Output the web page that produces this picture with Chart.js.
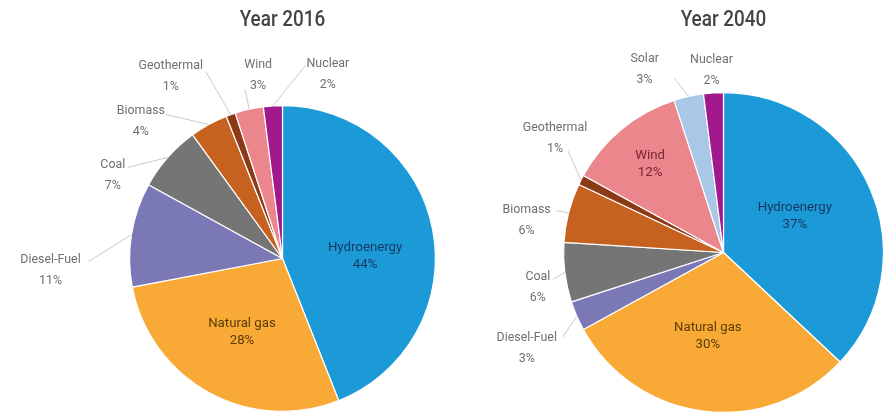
<!DOCTYPE html>
<html>
<head>
<meta charset="utf-8">
<script src="https://cdn.jsdelivr.net/npm/chart.js@4/dist/chart.umd.min.js"></script>
<style>
  html, body { margin: 0; padding: 0; background: #fff; }
  #wrap { position: relative; width: 886px; height: 415px; overflow: hidden; }
  .pie { position: absolute; top: 0; width: 443px; height: 415px; }
  #pieLeft { left: 0; }
  #pieRight { left: 443px; }
</style>
</head>
<body>
<div id="wrap">
  <canvas id="pieLeft" class="pie" width="443" height="415"></canvas>
  <canvas id="pieRight" class="pie" width="443" height="415"></canvas>
</div>
<script>
// Power generation mix (% share), clockwise from 12 o'clock
const sources2016 = ['Hydroenergy', 'Natural gas', 'Diesel-Fuel', 'Coal', 'Biomass', 'Geothermal', 'Wind', 'Nuclear'];
const shares2016 = [44, 28, 11, 7, 4, 1, 3, 2];

const sources2040 = ['Hydroenergy', 'Natural gas', 'Diesel-Fuel', 'Coal', 'Biomass', 'Geothermal', 'Wind', 'Solar', 'Nuclear'];
const shares2040 = [37, 30, 3, 6, 6, 1, 12, 3, 2];

const sourceColors = {
    'Hydroenergy': '#1c9ad8',
    'Natural gas': '#f8a936',
    'Diesel-Fuel': '#7b78b6',
    'Coal': '#757575',
    'Biomass': '#c6611f',
    'Geothermal': '#8c3a16',
    'Wind': '#ea868c',
    'Solar': '#a9c7e6',
    'Nuclear': '#a2198e'
};

// text colour used for labels drawn inside a slice
const insideInk = {
    'Hydroenergy': '#17375e',
    'Natural gas': '#5b3a06',
    'Wind': '#7a2530'
};

const FONT = "Roboto, 'Noto Sans', sans-serif";

// label placement: inside labels sit at fraction f of the radius along the slice mid-angle,
// outside labels are offset (dx, dy) from the slice rim with a leader line to (ax, ay)
const place2016 = {
    'Hydroenergy': { inside: true, f: 0.55, dx: 0, dy: 13 },
    'Natural gas': { inside: true, f: 0.55, dx: 0, dy: 0 },
    'Diesel-Fuel': { dx: -81, dy: 36, ax: 38, ay: -9 },
    'Coal': { dx: -55, dy: 18, ax: 15, ay: -8 },
    'Biomass': { dx: -68, dy: -3, ax: 25, ay: -7 },
    'Geothermal': { dx: -60, dy: -39, ax: 35, ay: -4 },
    'Wind': { dx: 9, dy: -34, ax: -13, ay: 14 },
    'Nuclear': { dx: 55, dy: -32, ax: -22, ay: -9 }
};

const place2040 = {
    'Hydroenergy': { inside: true, f: 0.5, dx: -2, dy: -5 },
    'Natural gas': { inside: true, f: 0.53, dx: -5, dy: 0 },
    'Wind': { inside: true, f: 0.72, dx: 0, dy: 0 },
    'Diesel-Fuel': { dx: -50, dy: 32, ax: 36, ay: -11 },
    'Coal': { dx: -27, dy: 15, ax: 15, ay: -8 },
    'Biomass': { dx: -42, dy: 7, ax: 30, ay: -9 },
    'Geothermal': { dx: -26, dy: -42, ax: 13, ay: 13 },
    'Solar': { dx: -44, dy: -27, ax: 30, ay: 9 },
    'Nuclear': { dx: -2, dy: -23 }
};

// squeeze text horizontally to get the narrow look of the original type
function narrowText(ctx, text, x, y, squeeze) {
    ctx.save();
    ctx.translate(x, y);
    ctx.scale(squeeze, 1);
    ctx.fillText(text, 0, 0);
    ctx.restore();
}

const sliceLabels = {
    id: 'sliceLabels',
    afterDatasetsDraw(chart, args, opts) {
        const ctx = chart.ctx;
        const meta = chart.getDatasetMeta(0);
        const labels = chart.data.labels;
        const values = chart.data.datasets[0].data;
        const cx = meta.data[0].x, cy = meta.data[0].y;

        ctx.save();
        ctx.textAlign = 'center';
        ctx.textBaseline = 'middle';

        // heading above the pie
        ctx.fillStyle = '#444444';
        ctx.font = '500 22px ' + FONT;
        narrowText(ctx, opts.heading, cx, 20, 0.86);

        meta.data.forEach((arc, i) => {
            const name = labels[i];
            const p = opts.place[name];
            if (!p) return;
            const mid = (arc.startAngle + arc.endAngle) / 2;
            const r = arc.outerRadius;
            let lx, ly, gap, squeeze;
            if (p.inside) {
                lx = cx + Math.cos(mid) * r * p.f + p.dx;
                ly = cy + Math.sin(mid) * r * p.f + p.dy;
                ctx.fillStyle = insideInk[name] || '#333';
                gap = 8.5;
                squeeze = 0.98;
            } else {
                const ex = cx + Math.cos(mid) * r;
                const ey = cy + Math.sin(mid) * r;
                lx = ex + p.dx;
                ly = ey + p.dy;
                if (p.ax !== undefined) {
                    ctx.strokeStyle = '#c9c9c9';
                    ctx.lineWidth = 1;
                    ctx.beginPath();
                    ctx.moveTo(lx + p.ax, ly + p.ay);
                    ctx.lineTo(ex, ey);
                    ctx.stroke();
                }
                ctx.fillStyle = '#707070';
                gap = 10.5;
                squeeze = 0.92;
            }
            ctx.font = '13.5px ' + FONT;
            narrowText(ctx, name, lx, ly - gap, squeeze);
            narrowText(ctx, values[i] + '%', lx, ly + gap, squeeze);
        });
        ctx.restore();
    }
};

function renderPie(canvasId, labels, values, heading, place, padding) {
    const ctx = document.getElementById(canvasId).getContext('2d');
    return new Chart(ctx, {
        type: 'pie',
        data: {
            labels: labels,
            datasets: [{
                data: values,
                backgroundColor: labels.map(l => sourceColors[l]),
                borderColor: '#ffffff',
                borderWidth: 1.2,
                hoverOffset: 0
            }]
        },
        options: {
            responsive: false,
            animation: false,
            devicePixelRatio: 1,
            layout: { padding: padding },
            plugins: {
                legend: { display: false },
                tooltip: { enabled: false },
                sliceLabels: { heading: heading, place: place }
            }
        },
        plugins: [sliceLabels]
    });
}

renderPie('pieLeft', sources2016, shares2016, 'Year 2016', place2016,
    { left: 129, right: 7, top: 105, bottom: 3 });
renderPie('pieRight', sources2040, shares2040, 'Year 2040', place2040,
    { left: 120, right: 2, top: 92, bottom: 2 });
</script>
</body>
</html>
